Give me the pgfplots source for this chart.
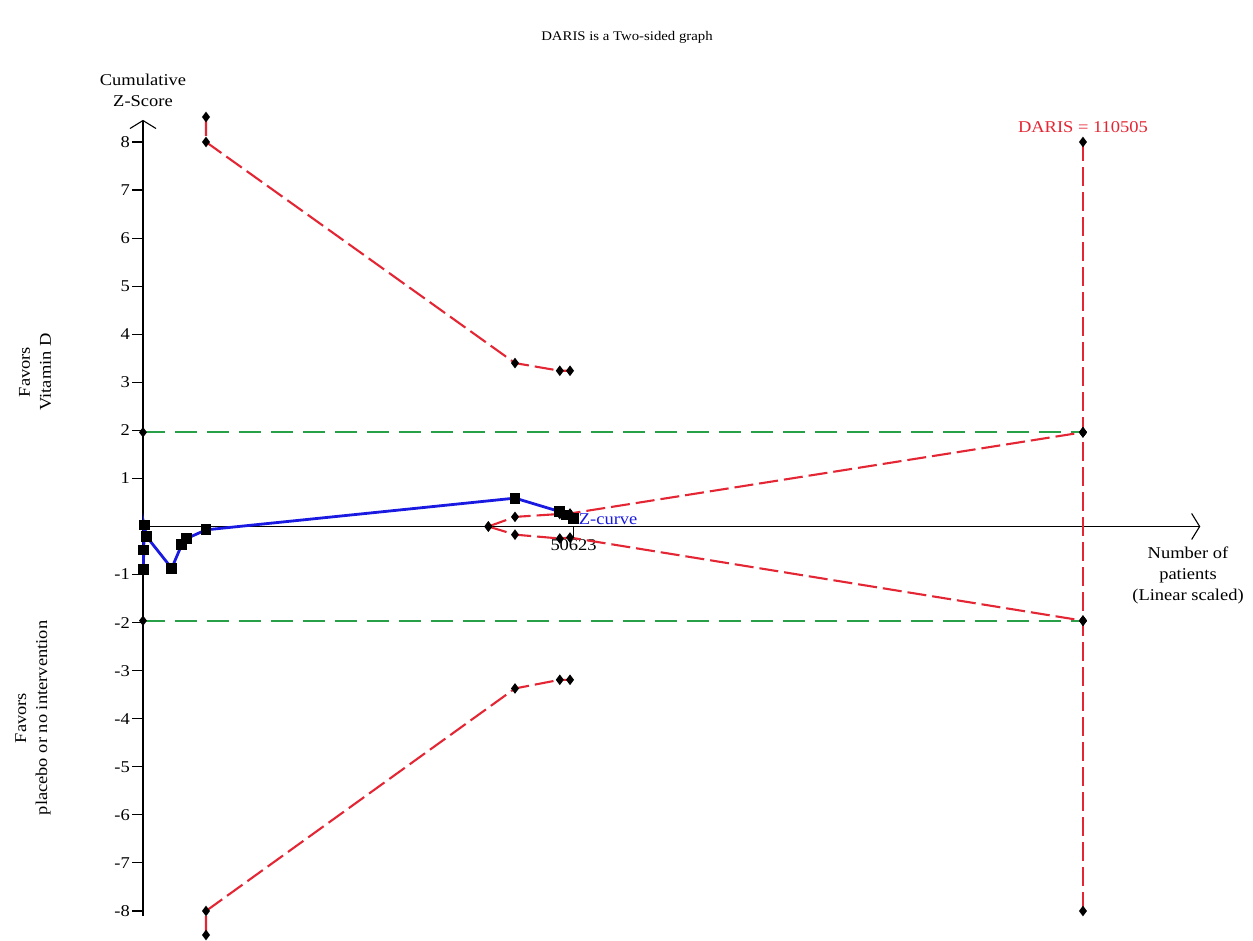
\documentclass[border=0pt]{standalone}
\usepackage{pgfplots}
\pgfplotsset{compat=1.18}
\usepackage{fontspec}
\setmainfont{Liberation Serif}[FakeStretch=1.12]
\usetikzlibrary{arrows.meta}

\definecolor{bndred}{RGB}{228,38,52}
\definecolor{refgreen}{RGB}{40,160,72}
\definecolor{zblue}{RGB}{25,25,225}

\pgfplotsset{
  bnd/.style={bndred, line width=2.1pt, dash pattern=on 19pt off 6pt,
    mark=diamond*, mark options={solid, black, fill=black}, mark size=3.6pt},
  conv/.style={refgreen, line width=2pt, dash pattern=on 22pt off 10pt,
    mark=diamond*, mark options={solid, black, fill=black}, mark size=3.6pt},
}

\begin{document}
\fontsize{16.5}{21}\selectfont
\begin{tikzpicture}[x=1pt,y=1pt]
\path[use as bounding box] (0,0) rectangle (1253,941);
\begin{axis}[
  at={(143pt,25.2pt)}, anchor=south west,
  scale only axis, width=1057.3pt, height=795.9pt,
  xmin=0, xmax=124300, ymin=-8.1, ymax=8.46,
  axis lines=middle,
  axis line style={line width=1.1pt, -{Straight Barb[length=8pt,width=26pt,line width=1.1pt]}},
  clip=false,
  scaled x ticks=false,
  tick align=outside,
  major tick length=11pt,
  tick style={black, line width=1.1pt},
  ytick={-8,-7,-6,-5,-4,-3,-2,-1,1,2,3,4,5,6,7,8},
  yticklabels={-8,-7,-6,-5,-4,-3,-2,-1,1,2,3,4,5,6,7,8},
  xtick={50623},
  xticklabels={50623},
  yticklabel style={inner sep=2pt},
  xticklabel style={inner sep=2pt},
  every tick label/.append style={font=\fontsize{16.5}{20}\selectfont},
]
% conventional significance boundaries
\addplot[conv] coordinates {(0,1.96) (110505,1.96)};
\addplot[conv] coordinates {(0,-1.96) (110505,-1.96)};

% trial sequential monitoring boundaries
\addplot[bnd] coordinates {(7407,8.52) (7407,8.00) (43733,3.40) (49000,3.24) (50200,3.24)};
\addplot[bnd] coordinates {(7407,-8.50) (7407,-8.00) (43733,-3.37) (49000,-3.19) (50200,-3.19)};

% futility (inner wedge) boundaries
\addplot[bnd] coordinates {(40600,0) (43733,0.20) (49000,0.26) (50200,0.27) (110505,1.96)};
\addplot[bnd] coordinates {(40600,0) (43733,-0.17) (49000,-0.25) (50200,-0.23) (110505,-1.96)};

% required information size
\addplot[bnd] coordinates {(110505,8) (110505,1.96) (110505,-1.96) (110505,-8)};

% cumulative Z-curve
\addplot[zblue, line width=2.8pt,
  mark=square*, mark options={black, fill=black}, mark size=4pt]
  coordinates {(30,-0.90) (90,-0.49) (130,0.03) (420,-0.21) (3374,-0.87)
               (4550,-0.38) (5138,-0.25) (7407,-0.07) (43733,0.59)
               (49000,0.31) (49800,0.24) (50623,0.17)};

\node[bndred, anchor=center] at (axis cs:110505,8.3) {DARIS = 110505};
\node[zblue, anchor=west, inner sep=1pt] at (axis cs:51100,0.15) {Z-curve};
\end{axis}

\node at (627,904) {\fontsize{13.2}{16}\selectfont DARIS is a Two-sided graph};
\node[align=center] at (143,851) {Cumulative\\Z-Score};
\node[align=center, rotate=90] at (35,569) {Favors\\Vitamin D};
\node[align=center, rotate=90] at (33,223) {Favors\\placebo or no intervention};
\node[align=center] at (1188,366) {Number of\\patients\\(Linear scaled)};
\end{tikzpicture}
\end{document}
